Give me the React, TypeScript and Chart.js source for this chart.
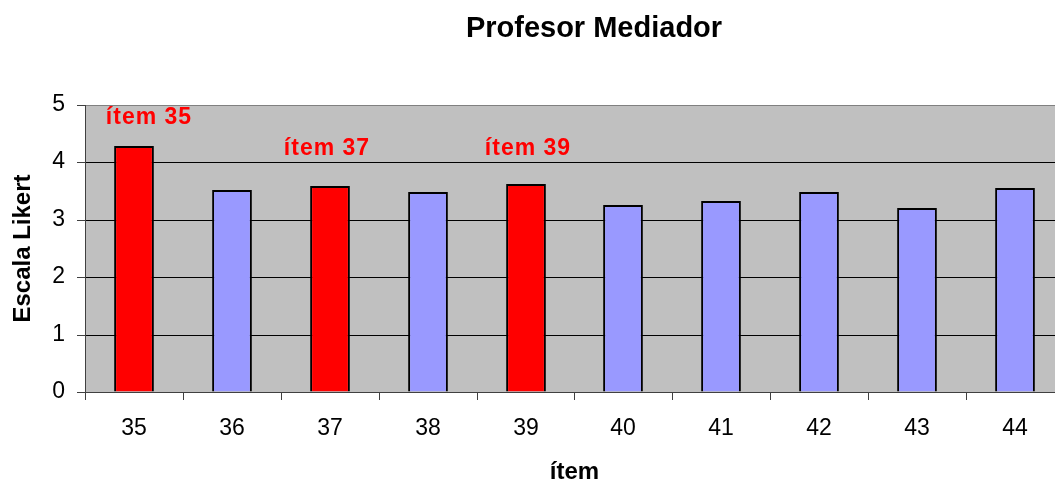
import React, { useEffect, useRef } from "react";
import { Chart, registerables } from "chart.js";

Chart.register(...registerables);

const categories = ["35", "36", "37", "38", "39", "40", "41", "42", "43", "44"];
const values = [4.29, 3.52, 3.59, 3.49, 3.62, 3.25, 3.32, 3.49, 3.21, 3.55];
const highlighted = ["35", "37", "39"];
const yMin = 0;
const yMax = 5;
const yStep = 1;
const annotationTexts = ["ítem 35", "ítem 37", "ítem 39"];
const annotationX = [0.15, 1.97, 4.03];
const annotationY = [4.78, 4.24, 4.24];
const chartTitle = "Profesor Mediador";
const xTitle = "ítem";
const yTitle = "Escala Likert";

const FONT = '"Liberation Sans", Arial, sans-serif';

const decorPlugin = {
  id: "decor",
  beforeDraw(chart: any) {
    const { ctx, chartArea: a } = chart;
    ctx.save();
    ctx.fillStyle = "#C0C0C0";
    ctx.fillRect(a.left, a.top, a.right - a.left, a.bottom - a.top);
    ctx.restore();
  },
  afterDraw(chart: any) {
    const { ctx } = chart;
    const xs = chart.scales.x;
    const ys = chart.scales.y;
    ctx.save();
    ctx.textAlign = "center";
    ctx.textBaseline = "middle";
    ctx.fillStyle = "#000";
    ctx.font = `bold 29px ${FONT}`;
    ctx.fillText(chartTitle, 594, 29);
    ctx.fillStyle = "#FF0000";
    ctx.font = `bold 23px ${FONT}`;
    (ctx as any).letterSpacing = "1px";
    annotationTexts.forEach((t, i) => {
      ctx.fillText(t, xs.getPixelForValue(annotationX[i]), ys.getPixelForValue(annotationY[i]));
    });
    ctx.restore();
  },
};

export default function App() {
  const ref = useRef<HTMLCanvasElement | null>(null);

  useEffect(() => {
    if (!ref.current) return;
    const chart = new Chart(ref.current, {
      type: "bar",
      data: {
        labels: categories,
        datasets: [
          {
            data: values,
            backgroundColor: categories.map((c) => (highlighted.includes(c) ? "#FF0000" : "#9999FF")),
            borderColor: "#000000",
            borderWidth: 2,
            categoryPercentage: 1,
            barPercentage: 0.41,
          },
        ],
      },
      options: {
        animation: false,
        responsive: false,
        devicePixelRatio: 1,
        layout: { padding: { top: 105, right: 6, left: 0, bottom: 0 } },
        plugins: {
          legend: { display: false },
          tooltip: { enabled: false },
          title: { display: false },
        },
        scales: {
          x: {
            alignToPixels: true,
            grid: {
              display: true,
              drawOnChartArea: false,
              drawTicks: true,
              tickLength: 8,
              offset: true,
              color: "#404040",
            },
            border: { color: "#404040", width: 1 },
            ticks: {
              color: "#000",
              font: { family: FONT, size: 23 },
              padding: 15,
              maxRotation: 0,
              autoSkip: false,
            },
            title: {
              display: true,
              text: xTitle,
              color: "#000",
              font: { family: FONT, size: 24, weight: "bold", lineHeight: 0.78 },
              padding: 0,
            },
            afterFit: (s: any) => {
              s.height = 90;
            },
          },
          y: {
            min: yMin,
            max: yMax,
            alignToPixels: true,
            grid: {
              color: (c: any) => (c.tick && c.tick.value === yMax ? "#808080" : "#000000"),
              tickColor: "#404040",
              tickLength: 8,
              lineWidth: 1,
            },
            border: { color: "#404040", width: 1 },
            ticks: {
              stepSize: yStep,
              color: "#000",
              font: { family: FONT, size: 23 },
              padding: 12,
            },
            title: {
              display: true,
              text: yTitle,
              color: "#000",
              font: { family: FONT, size: 24, weight: "bold", lineHeight: 1.2 },
              padding: { top: 9, bottom: 0 },
            },
            afterFit: (s: any) => {
              s.width = 85;
            },
          },
        },
      },
      plugins: [decorPlugin],
    } as any);
    return () => chart.destroy();
  }, []);

  return (
    <div
      style={{
        position: "fixed",
        left: 0,
        top: 0,
        width: 1055,
        height: 482,
        overflow: "hidden",
        background: "#fff",
      }}
    >
      <canvas ref={ref} width={1070} height={482} style={{ display: "block" }} />
    </div>
  );
}
